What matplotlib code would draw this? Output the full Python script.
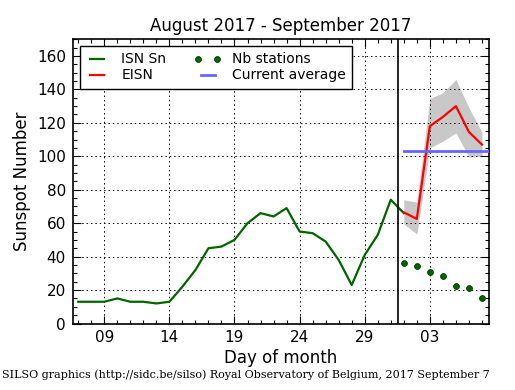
import matplotlib
matplotlib.use("Agg")
import matplotlib.pyplot as plt
import matplotlib.dates as mdates
from matplotlib.ticker import MultipleLocator
from matplotlib.legend_handler import HandlerLine2D
import pandas as pd
import numpy as np

# ---- data ----
isn_dates = pd.date_range("2017-08-07", "2017-09-01", freq="D")
isn_values = [13, 13, 13, 15, 13, 13, 12, 13, 22, 32, 45, 46, 50, 60, 66, 64, 69,
              55, 54, 49, 38, 23, 41, 53, 74, 66]

eisn_dates = pd.date_range("2017-09-01", "2017-09-07", freq="D")
eisn_values = [66.5, 62.5, 118, 123.5, 130, 114.5, 107]
eisn_upper = [74, 72.5, 134.5, 138, 146, 129, 114.5]
eisn_lower = [59.5, 53.5, 105, 109, 114, 99.5, 100]

nb_stations = [36, 34.5, 30.5, 28.5, 22.5, 21.5, 15.5]

current_average = 103
avg_start = "2017-09-01"
avg_end = "2017-09-07 13:00"
now_line = "2017-08-31 13:40"

xlim = ("2017-08-06 13:40", "2017-09-07 13:00")
ylim = (0, 170)

title = "August 2017 - September 2017"
footer = "SILSO graphics (http://sidc.be/silso) Royal Observatory of Belgium, 2017 September 7"

# ---- plot ----
fig = plt.figure(figsize=(5.15, 3.90), dpi=100, facecolor="white")
ax = fig.add_axes([0.141, 0.1705, 0.8085, 0.729])

ax.fill_between(eisn_dates, eisn_lower, eisn_upper, color="#c8c8c8", linewidth=0, zorder=1)
ax.plot(isn_dates, isn_values, color="#006400", lw=1.6, label="ISN Sn", zorder=3)
ax.plot(eisn_dates, eisn_values, color="red", lw=1.6, label="EISN", zorder=4)
dots, = ax.plot(eisn_dates, nb_stations, linestyle="none", marker="o", markersize=4.2,
                color="#006400", markeredgecolor="#003800", markeredgewidth=0.6,
                label="Nb stations", zorder=4)
ax.plot([pd.Timestamp(avg_start), pd.Timestamp(avg_end)], [current_average, current_average],
        color="#6666ff", lw=2.0, label="Current average", zorder=5)
ax.axvline(pd.Timestamp(now_line), color="black", lw=1.2, zorder=6)

ax.set_xlim(pd.Timestamp(xlim[0]), pd.Timestamp(xlim[1]))
ax.set_ylim(*ylim)

ax.xaxis.set_major_locator(mdates.DayLocator(bymonthday=[9, 14, 19, 24, 29, 3]))
ax.xaxis.set_major_formatter(mdates.DateFormatter("%d"))
ax.xaxis.set_minor_locator(mdates.DayLocator())
ax.yaxis.set_major_locator(MultipleLocator(20))
ax.yaxis.set_minor_locator(MultipleLocator(5))

ax.tick_params(which="both", direction="in", top=True, right=True, labelsize=11)
ax.tick_params(which="major", length=6, width=0.8, pad=4.8)
ax.tick_params(which="minor", length=3, width=0.8)
for s in ax.spines.values():
    s.set_linewidth(1.2)

ax.grid(True, which="major", linestyle=(0, (1.5, 3)), color="black", linewidth=0.7)

ax.set_title(title, fontsize=12)
ax.set_xlabel("Day of month", fontsize=12, labelpad=3)
ax.set_ylabel("Sunspot Number", fontsize=12)

leg = ax.legend(loc="upper left", ncol=2, fontsize=10, numpoints=2, fancybox=False,
                framealpha=1, edgecolor="black", handlelength=1.6, columnspacing=2.2,
                borderaxespad=0.5, borderpad=0.45, labelspacing=0.15, handletextpad=0.95,
                handler_map={dots: HandlerLine2D(marker_pad=0.12)})
leg.get_frame().set_linewidth(1.0)

fig.text(0.004, 0.025, footer, family="DejaVu Serif", fontsize=8, ha="left", va="bottom")

fig.savefig("out.png", dpi=100, facecolor="white")
